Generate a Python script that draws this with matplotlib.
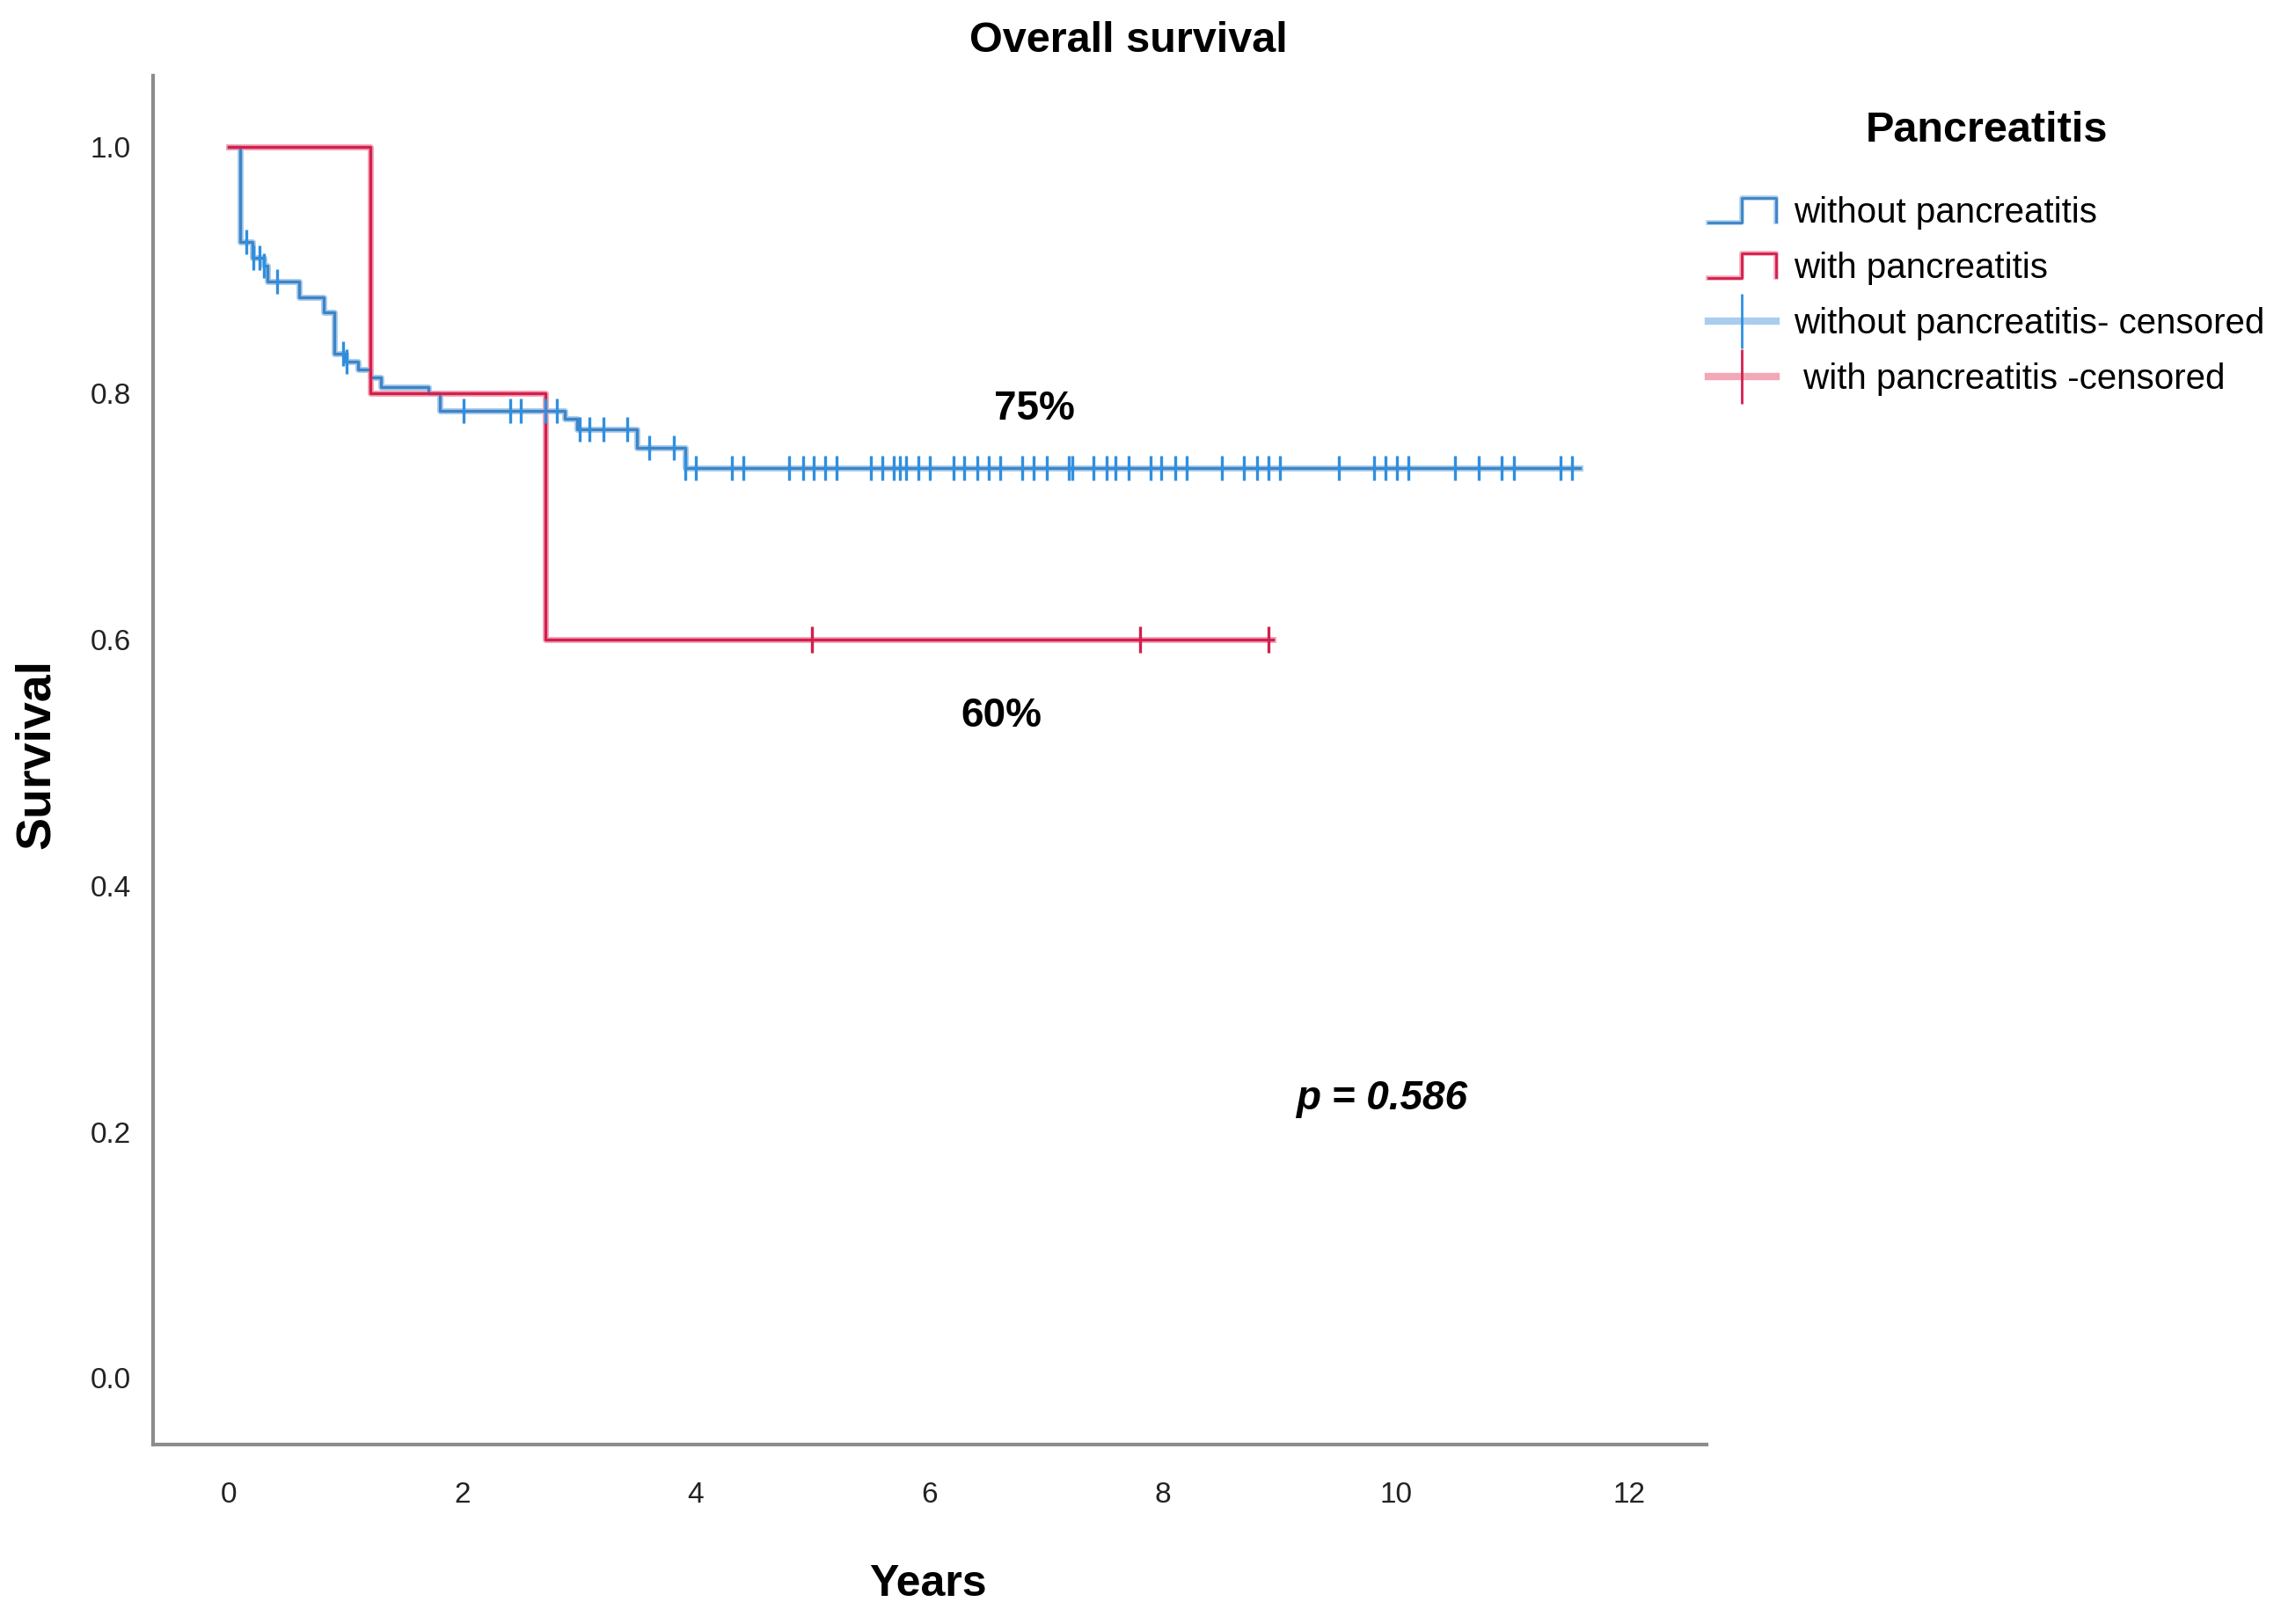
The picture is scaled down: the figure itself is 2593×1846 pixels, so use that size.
import numpy as np
import matplotlib
matplotlib.use('Agg')
import matplotlib.pyplot as plt
from matplotlib.lines import Line2D
from matplotlib.legend_handler import HandlerBase

# step data (years, survival after the step)
without_times = [0.0, 0.10, 0.20, 0.30, 0.33, 0.60, 0.81, 0.90, 1.00, 1.11, 1.21,
                 1.30, 1.71, 1.81, 2.88, 2.98, 3.50, 3.91, 11.58]
without_surv = [1.0, 0.923, 0.910, 0.904, 0.891, 0.878, 0.866, 0.832, 0.826, 0.819,
                0.813, 0.805, 0.800, 0.786, 0.779, 0.771, 0.756, 0.739, 0.739]
without_cens = [0.15, 0.21, 0.26, 0.30, 0.41, 0.98, 1.01, 2.01, 2.41, 2.50, 2.71,
                2.81, 3.01, 3.09, 3.21, 3.41, 3.60, 3.81, 3.91, 4.00, 4.31, 4.41,
                4.80, 4.92, 5.01, 5.11, 5.21, 5.50, 5.60, 5.70, 5.75, 5.80, 5.91,
                6.01, 6.21, 6.30, 6.41, 6.51, 6.61, 6.80, 6.90, 7.01, 7.20, 7.23,
                7.41, 7.52, 7.60, 7.71, 7.90, 7.99, 8.11, 8.21, 8.51, 8.70, 8.81,
                8.91, 9.01, 9.51, 9.81, 9.91, 10.01, 10.11, 10.51, 10.71, 10.91,
                11.01, 11.41, 11.51]

with_times = [0.0, 1.21, 2.71, 8.95]
with_surv = [1.0, 0.8, 0.6, 0.6]
with_cens = [5.0, 7.81, 8.91]

labels = ['without pancreatitis', 'with pancreatitis',
          'without pancreatitis- censored', ' with pancreatitis -censored']
x_ticks = [0, 2, 4, 6, 8, 10, 12]
y_ticks = [0.0, 0.2, 0.4, 0.6, 0.8, 1.0]

BLUE = '#3f84c4'
BLUE_C = '#2f8fe0'
BLUE_L = '#a9cdee'
RED = '#d21f4e'
RED_L = '#f3a8b8'

plt.rcParams['font.family'] = ['Liberation Sans', 'DejaVu Sans']


def step_value(times, surv, t):
    i = np.searchsorted(times, t, side='right') - 1
    return np.array(surv)[i]


class HandlerStep(HandlerBase):
    def __init__(self, color, light):
        super().__init__()
        self.color = color
        self.light = light

    def create_artists(self, legend, orig_handle, xdescent, ydescent, width,
                       height, fontsize, trans):
        lo = -ydescent + 0.0 * height
        hi = -ydescent + 1.0 * height
        xs = [-xdescent, -xdescent + 0.5 * width, -xdescent + 0.5 * width,
              -xdescent + width, -xdescent + width]
        ys = [lo, lo, hi, hi, lo + 0.05 * height]
        halo = Line2D(xs, ys, color=self.light, lw=4.0, transform=trans)
        line = Line2D(xs, ys, color=self.color, lw=2.0, transform=trans)
        return [halo, line]


fig = plt.figure(figsize=(25.93, 18.46), dpi=100)
ax = fig.add_axes([0.0671, 0.1105, 0.6809, 0.8429])

# curves
for times, surv, col, light in [(without_times, without_surv, BLUE, BLUE_L),
                                (with_times, with_surv, RED, RED_L)]:
    ax.step(times, surv, where='post', color=light, lw=5, zorder=2)
    ax.step(times, surv, where='post', color=col, lw=2.4, zorder=3)

ax.plot(without_cens, step_value(without_times, without_surv, without_cens),
        ls='none', marker='|', ms=20, mew=2.4, color=BLUE_C, zorder=4)
ax.plot(with_cens, step_value(with_times, with_surv, with_cens),
        ls='none', marker='|', ms=22, mew=2.4, color=RED, zorder=4)

ax.set_xlim(-0.65, 12.66)
ax.set_ylim(-0.054, 1.058)
ax.set_xticks(x_ticks)
ax.set_yticks(y_ticks)
ax.set_xticklabels([str(v) for v in x_ticks])
ax.set_yticklabels(['%.1f' % v for v in y_ticks])
ax.tick_params(length=0, labelsize=24, colors='#222222')
ax.tick_params(axis='x', pad=30)
ax.tick_params(axis='y', pad=18)
for s in ['top', 'right']:
    ax.spines[s].set_visible(False)
for s in ['left', 'bottom']:
    ax.spines[s].set_color('#8c8c8c')
    ax.spines[s].set_linewidth(3)

# annotations
ax.text(6.9, 0.787, '75%', fontweight='bold', fontsize=33,
        ha='center', va='center')
ax.text(6.62, 0.5375, '60%', fontweight='bold', fontsize=33,
        ha='center', va='center')
ax.text(9.88, 0.227, 'p = 0.586', fontweight='bold',
        style='italic', fontsize=33, ha='center', va='center')

fig.text(0.4948, 0.975, 'Overall survival', fontweight='bold',
         fontsize=35, ha='center', va='center')
fig.text(0.407, 0.0245, 'Years', fontweight='bold',
         fontsize=36, ha='center', va='center')
fig.text(0.016, 0.536, 'Survival', fontweight='bold',
         fontsize=40, ha='center', va='center', rotation=90)

# legend
h_without = Line2D([], [], color=BLUE)
h_with = Line2D([], [], color=RED)
h_wc = Line2D([], [], color=BLUE_L, lw=6, marker='|', ms=44, mew=2,
              mec=BLUE_C)
h_rc = Line2D([], [], color=RED_L, lw=6, marker='|', ms=44, mew=2,
              mec=RED)
leg = fig.legend([h_without, h_with, h_wc, h_rc], labels,
                 handler_map={h_without: HandlerStep(BLUE, BLUE_L),
                              h_with: HandlerStep(RED, RED_L)},
                 loc='upper left', bbox_to_anchor=(0.749, 0.932),
                 borderpad=0, borderaxespad=0,
                 frameon=False, numpoints=1, handlelength=1.9,
                 handletextpad=0.5, labelspacing=0.62,
                 prop={'size': 29},
                 title='Pancreatitis',
                 title_fontproperties={'weight': 'bold', 'size': 35})
leg._legend_box.sep = 38

fig.savefig('out.png', dpi=100, facecolor='white')
